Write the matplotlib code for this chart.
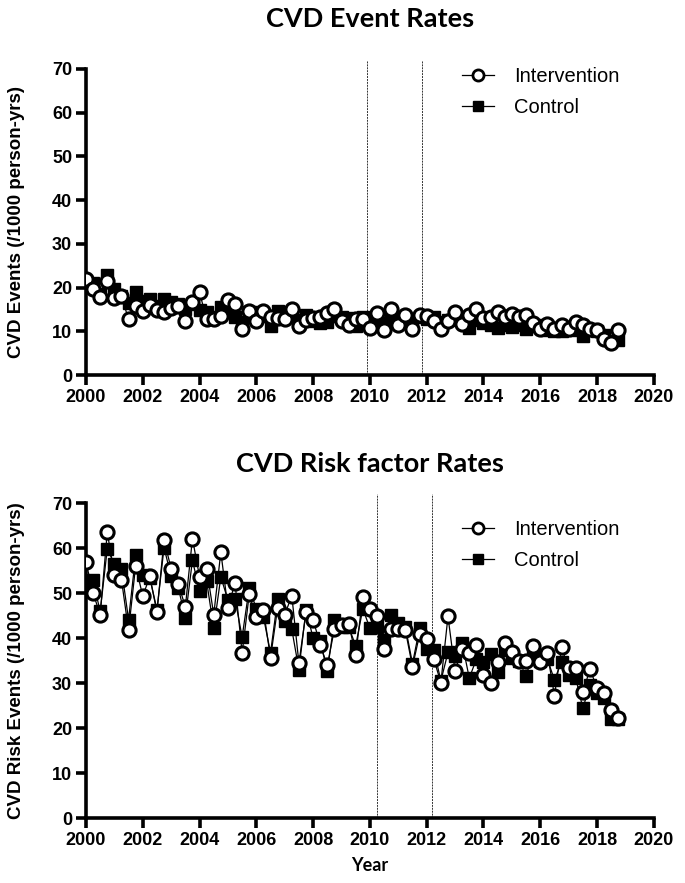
import matplotlib
matplotlib.use("Agg")
import matplotlib.pyplot as plt
import numpy as np
from matplotlib.lines import Line2D

# quarterly time points 2000 Q1 .. 2018 Q4
years = np.arange(2000, 2019, 0.25)

event_intervention = [21.9, 19.6, 17.9, 21.4, 17.5, 18.1, 12.7, 15.8, 14.7, 16.0,
                      14.9, 14.5, 15.3, 15.8, 12.4, 16.8, 18.9, 12.7, 12.7, 13.5,
                      17.2, 16.2, 10.5, 14.6, 12.4, 14.6, 13.3, 13.0, 12.7, 15.0,
                      11.3, 12.6, 13.1, 13.2, 14.1, 15.1, 12.4, 11.5, 12.9, 12.9,
                      10.7, 14.1, 10.3, 15.0, 11.5, 13.7, 10.6, 13.7, 13.5, 12.4,
                      10.5, 12.4, 14.3, 11.7, 13.7, 15.2, 13.0, 13.2, 14.3, 13.2,
                      13.9, 13.2, 13.7, 11.8, 10.5, 11.7, 10.5, 11.5, 10.5, 12.2,
                      11.5, 10.5, 10.2, 8.3, 7.4, 10.3]
event_control = [21.5, 21.0, 18.5, 22.9, 19.6, 18.0, 16.5, 19.1, 17.0, 17.3,
                 15.8, 17.4, 16.8, 16.2, 15.1, 16.3, 14.9, 14.5, 13.2, 15.6,
                 14.9, 13.2, 12.2, 14.5, 14.3, 13.5, 11.2, 14.7, 14.3, 13.5,
                 12.5, 13.7, 12.4, 11.8, 12.2, 13.5, 13.2, 13.0, 11.3, 13.2,
                 13.0, 12.6, 12.0, 13.5, 13.2, 13.0, 12.7, 13.2, 12.7, 13.2,
                 12.2, 12.6, 12.7, 12.5, 10.7, 12.6, 12.0, 11.5, 10.8, 11.5,
                 11.0, 11.5, 10.5, 11.1, 11.5, 10.2, 10.0, 10.1, 10.8, 10.3,
                 9.0, 10.3, 10.0, 9.2, 7.8, 7.9]

risk_intervention = [56.9, 50.0, 45.2, 63.5, 54.1, 53.0, 41.7, 56.1, 49.3, 53.7,
                     45.7, 61.8, 55.4, 52.1, 46.9, 62.1, 53.6, 55.4, 45.2, 59.1,
                     46.7, 52.3, 36.7, 49.7, 44.7, 46.3, 35.6, 46.7, 45.2, 49.4,
                     34.4, 45.7, 44.1, 38.5, 33.9, 42.0, 42.8, 43.2, 36.3, 49.2,
                     46.5, 45.0, 37.6, 41.9, 41.9, 41.7, 33.6, 40.8, 39.8, 35.3,
                     30.1, 44.8, 32.6, 37.6, 36.7, 38.5, 31.8, 30.1, 34.7, 38.8,
                     36.9, 34.8, 34.8, 38.2, 34.7, 36.7, 27.2, 37.9, 33.3, 33.3,
                     27.9, 33.1, 28.9, 27.8, 24.1, 22.3]
risk_control = [51.9, 52.8, 45.9, 59.8, 56.5, 55.4, 44.1, 58.4, 54.1, 53.3,
                46.3, 60.1, 53.7, 51.2, 44.5, 57.3, 50.4, 52.6, 42.2, 53.6,
                48.4, 48.7, 40.2, 51.2, 46.5, 44.7, 36.7, 48.6, 43.7, 41.9,
                33.0, 46.3, 40.0, 39.3, 32.6, 43.9, 42.5, 42.5, 38.3, 46.5,
                42.2, 42.5, 39.6, 45.2, 43.4, 42.5, 34.3, 42.2, 37.6, 37.4,
                30.5, 36.8, 35.9, 38.9, 31.1, 35.3, 34.6, 36.5, 32.4, 37.3,
                35.5, 35.0, 31.5, 37.0, 35.0, 35.3, 30.7, 34.7, 31.8, 31.1,
                24.4, 29.6, 27.8, 26.7, 22.0, 22.0]

event_vlines = [2009.9, 2011.85]
risk_vlines = [2010.25, 2012.2]

num_font = ['Liberation Sans Narrow', 'Liberation Sans', 'DejaVu Sans']
title_font = ['Lato', 'DejaVu Sans']
label_font = ['Liberation Sans', 'DejaVu Sans']


def draw_panel(ax, inter, ctrl, vlines, title, ylabel, title_pad, leg_y,
               xlabel=None):
    ax.plot(years, ctrl, color='black', lw=0.9, marker='s', ms=8.5,
            mfc='black', mec='black', zorder=3)
    ax.plot(years, inter, color='black', lw=0.9, marker='o', ms=9.5,
            mfc='white', mec='black', mew=2.2, zorder=4)
    for v in vlines:
        ax.axvline(v, ymin=0, ymax=1.03, color='#333333', lw=0.7,
                   ls=(0, (2, 1)), clip_on=False, zorder=1)
    ax.set_xlim(2000, 2020)
    ax.set_ylim(0, 70)
    ax.set_xticks(np.arange(2000, 2021, 2))
    ax.set_yticks(np.arange(0, 71, 10))
    for s in ['top', 'right']:
        ax.spines[s].set_visible(False)
    for s in ['left', 'bottom']:
        ax.spines[s].set_linewidth(2.6)
    ax.tick_params(width=2.6, length=7, direction='out', pad=3)
    for lab in ax.get_xticklabels() + ax.get_yticklabels():
        lab.set_family(num_font)
        lab.set_fontweight('bold')
        lab.set_fontsize(13)
    ax.set_title(title, family=title_font, fontweight='bold', fontsize=19.5,
                 pad=title_pad)
    ax.set_ylabel(ylabel, family=label_font, fontweight='bold', fontsize=13.5)
    ax.yaxis.set_label_coords(-0.108, 0.5)
    if xlabel:
        ax.set_xlabel(xlabel, family=title_font, fontweight='bold',
                      fontsize=13, labelpad=6)
    handles = [Line2D([], [], color='black', lw=0.9, marker='o', ms=8,
                      mfc='white', mec='black', mew=2.0),
               Line2D([], [], color='black', lw=0.9, marker='s', ms=7,
                      mfc='black', mec='black')]
    ax.legend(handles, ['Intervention', 'Control'], loc='upper left',
              bbox_to_anchor=(0.63, leg_y), frameon=False, handlelength=1.6,
              handletextpad=1.0, labelspacing=0.6,
              prop={'family': label_font, 'size': 14.5})


fig = plt.figure(figsize=(6.85, 8.83), dpi=100)
ax1 = fig.add_axes([0.1255, 0.5753, 0.829, 0.3466])
ax2 = fig.add_axes([0.1255, 0.0736, 0.829, 0.3567])

draw_panel(ax1, event_intervention, event_control, event_vlines,
           'CVD Event Rates', 'CVD Events (/1000 person-yrs)', 30, 1.065)
draw_panel(ax2, risk_intervention, risk_control, risk_vlines,
           'CVD Risk factor Rates', 'CVD Risk Events (/1000 person-yrs)', 22,
           1.004, xlabel='Year')

fig.savefig('out.png', dpi=100)
